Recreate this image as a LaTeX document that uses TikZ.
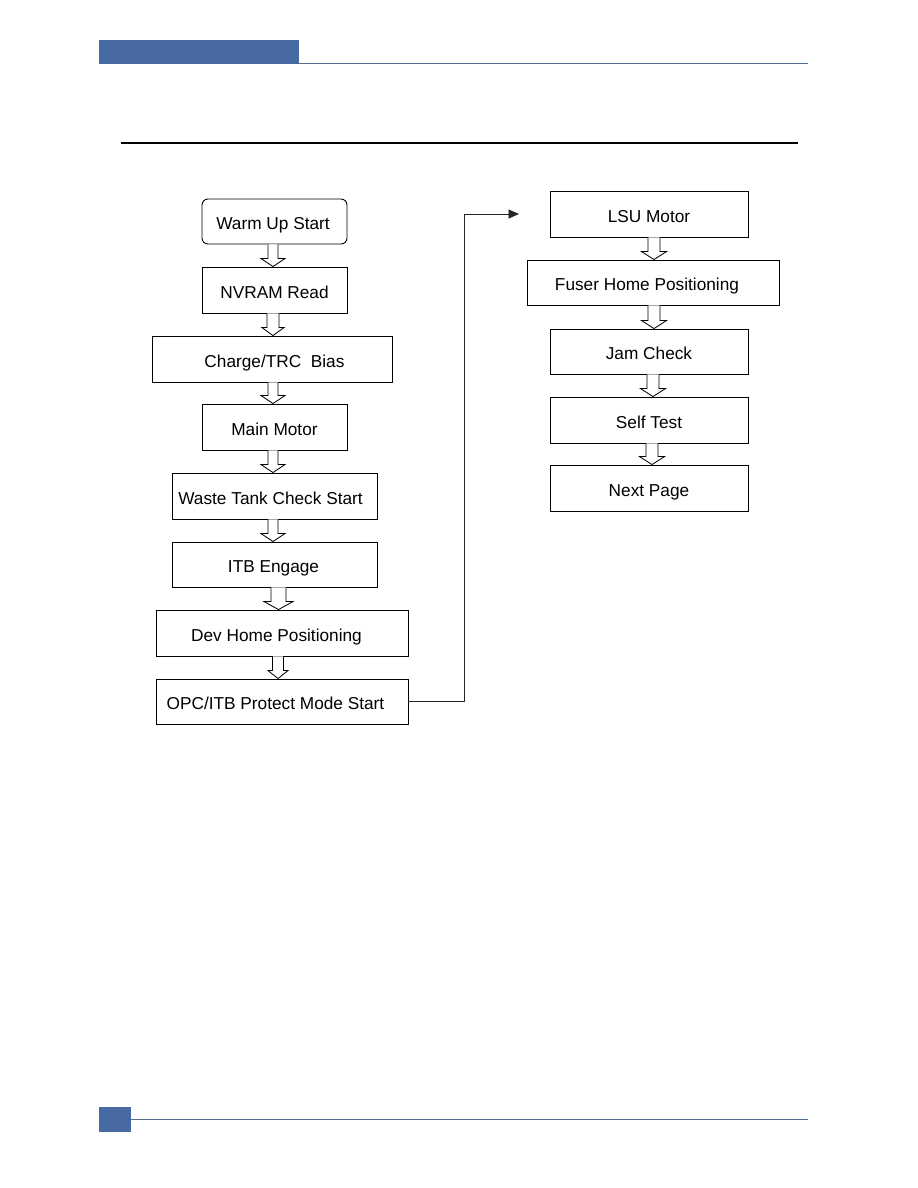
\documentclass[tikz,border=0pt]{standalone}
\usepackage{fontspec}
\setmainfont{Liberation Sans}
\usetikzlibrary{calc,arrows.meta}
\definecolor{hdrblue}{RGB}{72,106,163}
\definecolor{hdrline}{RGB}{80,110,140}
\tikzset{
 box/.style={draw=black, line width=0.6pt, fill=white, inner sep=0pt, text height=10.8pt, text depth=0pt, font=\fontsize{11.5}{14}\selectfont},
 bx/.style 2 args={box, minimum width={#1*0.66667pt}, minimum height={#2*0.66667pt}},
 hollowarr/.style={draw=black, line width=0.55pt, fill=white, line join=miter},
 link/.style={draw=black!85, line width=0.65pt, -{Triangle[length=7pt,width=6pt]}}
}
% #1 from node, #2 to node, #3 x (px), #4 shaft half width, #5 head half width
\newcommand\harr[5]{%
 \draw[hollowarr] ($(#1.south -| #3,0)+(-#4,0)$) -- ($(#2.north -| #3,0)+(-#4,-8)$) -- ($(#2.north -| #3,0)+(-#5,-8)$) -- (#2.north -| #3,0) -- ($(#2.north -| #3,0)+(#5,-8)$) -- ($(#2.north -| #3,0)+(#4,-8)$) -- ($(#1.south -| #3,0)+(#4,0)$);}
\begin{document}
\begin{tikzpicture}[x=0.66667pt, y=-0.66667pt]
\useasboundingbox (0,0) rectangle (918,1188);
% header / footer
\fill[hdrblue] (99,40) rectangle (299,64);
\draw[hdrline, line width=0.9pt] (299,63.5) -- (808,63.5);
\draw[black, line width=1pt] (121,143) -- (798,143);
\fill[hdrblue] (99,1107) rectangle (131,1132);
\draw[hdrline, line width=0.9pt] (131,1119.5) -- (808,1119.5);
% left column
\node[bx={145}{45}, rounded corners=4pt] (warm) at (274.5,221.5) {\hspace*{-2pt}Warm Up Start};
\node[bx={145}{46}] (nvram) at (274.5,290) {NVRAM Read};
\node[bx={240}{46}] (charge) at (272,359) {\hspace*{3.3pt}Charge/TRC\ \ Bias};
\node[bx={145}{46}] (main) at (274.5,427) {Main Motor};
\node[bx={205}{46}] (waste) at (274.5,496) {\hspace*{-5.3pt}Waste Tank Check Start};
\node[bx={205}{45}] (itb) at (274.5,564.5) {\hspace*{-1.3pt}ITB Engage};
\node[bx={252}{46}] (dev) at (282,633) {\hspace*{-7.3pt}Dev Home Positioning};
\node[bx={252}{45}] (opc) at (282,701.5) {\hspace*{-8.7pt}OPC/ITB Protect Mode Start};
% right column
\node[bx={198}{46}] (lsu) at (649,214) {LSU Motor};
\node[bx={252}{45}] (fuser) at (653,282.5) {\hspace*{-8pt}Fuser Home Positioning};
\node[bx={198}{45}] (jam) at (649,351.5) {Jam Check};
\node[bx={198}{46}] (self) at (649,420) {Self Test};
\node[bx={198}{46}] (next) at (649,488) {Next Page};
% hollow arrows
\harr{warm}{nvram}{273}{5}{12}
\harr{nvram}{charge}{273}{6}{11}
\harr{charge}{main}{273}{5}{12}
\harr{main}{waste}{273}{5}{12}
\harr{waste}{itb}{273}{5}{12}
\harr{itb}{dev}{278.5}{7.5}{14.5}
\harr{dev}{opc}{278}{5.5}{10}
\harr{lsu}{fuser}{654}{6}{12.5}
\harr{fuser}{jam}{654}{6}{12.5}
\harr{jam}{self}{653}{6}{12.5}
\harr{self}{next}{652}{6}{12.5}
% elbow connector
\coordinate (lsuin) at (519,214);
\draw[link] (opc.east) -- ++(56,0) |- (lsuin);
\end{tikzpicture}
\end{document}
